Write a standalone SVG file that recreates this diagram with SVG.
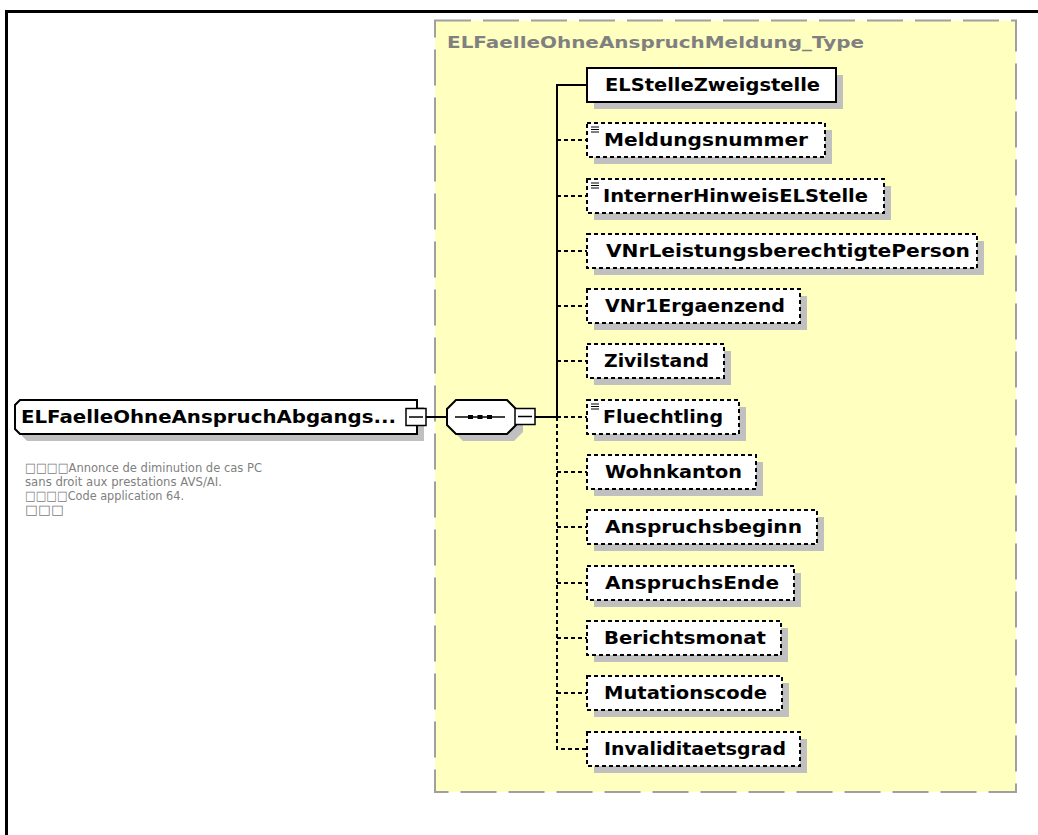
<svg xmlns="http://www.w3.org/2000/svg" width="1038" height="835" viewBox="0 0 1038 835">
<style>
.frame{fill:none;stroke:#000;stroke-width:3}
.typebox{fill:#ffffc0;stroke:#a0a0a0;stroke-width:2;stroke-dasharray:36 12}
.title{font-family:"DejaVu Sans",Verdana,sans-serif;font-weight:bold;font-size:15px;fill:#808080}
.sh{fill:#c0c0c0}
.box{fill:#fff;stroke:#000;stroke-width:2}
.opt{stroke-dasharray:4 3}
.lbl{font-family:"DejaVu Sans",Verdana,sans-serif;font-weight:bold;font-size:18px;fill:#000}
.conn{fill:none;stroke:#000;stroke-width:2}
.dash{stroke-dasharray:4 3}
.btn{fill:#fff;stroke:#000;stroke-width:1.5}
.thin{stroke:#000;stroke-width:1.5;fill:none}
.ico{stroke:#000;stroke-width:1.2;fill:none}
.cmt{font-family:"DejaVu Sans","Liberation Sans",sans-serif;font-size:13px;fill:#808080}
</style>
<rect width="1038" height="835" fill="#fff"/>
<path class="frame" d="M6.5,835 V11.5 H1038"/>
<g id="type-ELFaelleOhneAnspruchMeldung_Type">
<rect class="typebox" x="435" y="20.5" width="581" height="771.5"/>
<text class="title" x="447" y="48" textLength="417" lengthAdjust="spacingAndGlyphs">ELFaelleOhneAnspruchMeldung_Type</text>
</g>
<g id="connectors">
<path class="conn" d="M587,85 H557 V417"/>
<path class="conn" d="M426,417 H447"/>
<path class="conn" d="M535,417 H557"/>
<path class="conn dash" d="M557,417 V749 H587"/>
<path class="conn dash" d="M557,140 H587 M557,196 H587 M557,251 H587 M557,306 H587 M557,361 H587 M557,417 H587 M557,472 H587 M557,527 H587 M557,583 H587 M557,638 H587 M557,693 H587"/>
</g>
<g id="node-ELFaelleOhneAnspruchAbgangs">
<polygon class="sh" points="27,407 424,407 424,441 27,441 22,436 22,412"/>
<polygon class="box" points="20,400 417,400 417,434 20,434 15,429 15,405"/>
<text class="lbl" x="21" y="423" textLength="375" lengthAdjust="spacingAndGlyphs">ELFaelleOhneAnspruchAbgangs...</text>
<rect class="btn" x="406" y="408.5" width="20" height="17"/>
<path class="thin" d="M409,417 H423"/>
</g>
<g id="comment">
<text class="cmt" x="25" y="472" textLength="237" lengthAdjust="spacingAndGlyphs">□□□□Annonce de diminution de cas PC</text>
<text class="cmt" x="25" y="486" textLength="197" lengthAdjust="spacingAndGlyphs">sans droit aux prestations AVS/AI.</text>
<text class="cmt" x="25" y="500" textLength="159" lengthAdjust="spacingAndGlyphs">□□□□Code application 64.</text>
<text class="cmt" x="25" y="514" textLength="39" lengthAdjust="spacingAndGlyphs">□□□</text>
</g>
<g id="node-sequence">
<polygon class="sh" points="463,407 514,407 523,416 523,432 514,441 463,441 454,432 454,416"/>
<polygon class="box" points="456,400 507,400 516,409 516,425 507,434 456,434 447,425 447,409"/>
<path class="thin" d="M455,417 H505"/>
<rect x="468" y="415" width="5" height="4" fill="#000"/>
<rect x="477.5" y="415" width="5" height="4" fill="#000"/>
<rect x="487" y="415" width="5" height="4" fill="#000"/>
<rect class="btn" x="515" y="408.5" width="20" height="16"/>
<path class="thin" d="M518,416.5 H532"/>
</g>
<g id="node-ELStelleZweigstelle">
<rect class="sh" x="594" y="75" width="249" height="34"/>
<rect class="box" x="587" y="68" width="249" height="34"/>
<text class="lbl" x="605" y="91" textLength="215" lengthAdjust="spacingAndGlyphs">ELStelleZweigstelle</text>
</g>
<g id="node-Meldungsnummer">
<rect class="sh" x="594" y="130" width="238" height="34"/>
<rect class="box opt" x="587" y="123" width="238" height="34"/>
<path class="ico" d="M591,127 H599 M591,129.5 H599 M591,132 H599"/>
<text class="lbl" x="604" y="146" textLength="204" lengthAdjust="spacingAndGlyphs">Meldungsnummer</text>
</g>
<g id="node-InternerHinweisELStelle">
<rect class="sh" x="594" y="186" width="297" height="34"/>
<rect class="box opt" x="587" y="179" width="297" height="34"/>
<path class="ico" d="M591,183 H599 M591,185.5 H599 M591,188 H599"/>
<text class="lbl" x="603" y="202" textLength="265" lengthAdjust="spacingAndGlyphs">InternerHinweisELStelle</text>
</g>
<g id="node-VNrLeistungsberechtigtePerson">
<rect class="sh" x="594" y="241" width="390" height="34"/>
<rect class="box opt" x="587" y="234" width="390" height="34"/>
<text class="lbl" x="606" y="257" textLength="364" lengthAdjust="spacingAndGlyphs">VNrLeistungsberechtigtePerson</text>
</g>
<g id="node-VNr1Ergaenzend">
<rect class="sh" x="594" y="296" width="213" height="34"/>
<rect class="box opt" x="587" y="289" width="213" height="34"/>
<text class="lbl" x="605" y="312" textLength="180" lengthAdjust="spacingAndGlyphs">VNr1Ergaenzend</text>
</g>
<g id="node-Zivilstand">
<rect class="sh" x="594" y="351" width="137" height="34"/>
<rect class="box opt" x="587" y="344" width="137" height="34"/>
<text class="lbl" x="604" y="367" textLength="105" lengthAdjust="spacingAndGlyphs">Zivilstand</text>
</g>
<g id="node-Fluechtling">
<rect class="sh" x="594" y="407" width="152" height="34"/>
<rect class="box opt" x="587" y="400" width="152" height="34"/>
<path class="ico" d="M591,404 H599 M591,406.5 H599 M591,409 H599"/>
<text class="lbl" x="603" y="423" textLength="120" lengthAdjust="spacingAndGlyphs">Fluechtling</text>
</g>
<g id="node-Wohnkanton">
<rect class="sh" x="594" y="462" width="169" height="34"/>
<rect class="box opt" x="587" y="455" width="169" height="34"/>
<text class="lbl" x="605" y="478" textLength="137" lengthAdjust="spacingAndGlyphs">Wohnkanton</text>
</g>
<g id="node-Anspruchsbeginn">
<rect class="sh" x="594" y="517" width="230" height="34"/>
<rect class="box opt" x="587" y="510" width="230" height="34"/>
<text class="lbl" x="605" y="533" textLength="197" lengthAdjust="spacingAndGlyphs">Anspruchsbeginn</text>
</g>
<g id="node-AnspruchsEnde">
<rect class="sh" x="594" y="573" width="207" height="34"/>
<rect class="box opt" x="587" y="566" width="207" height="34"/>
<text class="lbl" x="605" y="589" textLength="174" lengthAdjust="spacingAndGlyphs">AnspruchsEnde</text>
</g>
<g id="node-Berichtsmonat">
<rect class="sh" x="594" y="628" width="194" height="34"/>
<rect class="box opt" x="587" y="621" width="194" height="34"/>
<text class="lbl" x="604" y="644" textLength="162" lengthAdjust="spacingAndGlyphs">Berichtsmonat</text>
</g>
<g id="node-Mutationscode">
<rect class="sh" x="594" y="683" width="195" height="34"/>
<rect class="box opt" x="587" y="676" width="195" height="34"/>
<text class="lbl" x="604" y="699" textLength="163" lengthAdjust="spacingAndGlyphs">Mutationscode</text>
</g>
<g id="node-Invaliditaetsgrad">
<rect class="sh" x="594" y="739" width="213" height="34"/>
<rect class="box opt" x="587" y="732" width="213" height="34"/>
<text class="lbl" x="604" y="755" textLength="182" lengthAdjust="spacingAndGlyphs">Invaliditaetsgrad</text>
</g>
</svg>
